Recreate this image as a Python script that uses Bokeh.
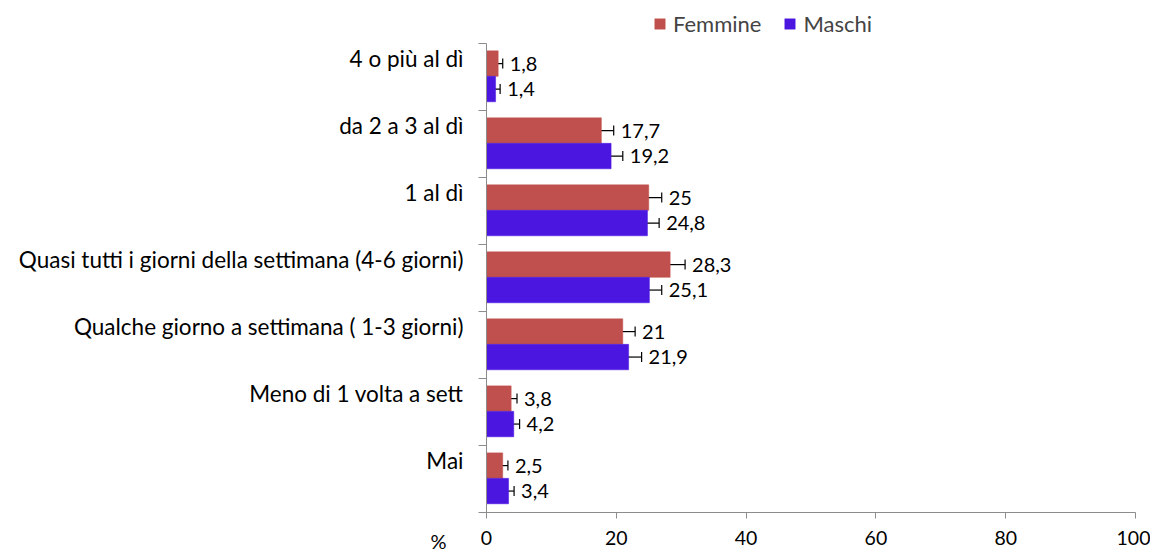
from bokeh.plotting import figure
from bokeh.models import (ColumnDataSource, Range1d, FixedTicker,
                          Whisker, TeeHead, Legend, LegendItem, Label, CustomJSTickFormatter)
from bokeh.transform import dodge
from bokeh.core.properties import value
from bokeh.embed import file_html
from bokeh.resources import INLINE

categories = ["4 o più al dì", "da 2 a 3 al dì", "1 al dì",
              "Quasi tutti i giorni della settimana (4-6 giorni)",
              "Qualche giorno a settimana ( 1-3 giorni)",
              "Meno di 1 volta a sett", "Mai"]
femmine = [1.8, 17.7, 25, 28.3, 21, 3.8, 2.5]
maschi = [1.4, 19.2, 24.8, 25.1, 21.9, 4.2, 3.4]
err_femmine = [0.7, 1.9, 2.0, 2.3, 1.9, 0.9, 0.8]
err_maschi = [0.7, 1.8, 1.8, 1.9, 2.0, 0.9, 0.85]
x_ticks = [0, 20, 40, 60, 80, 100]
series = ["Femmine", "Maschi"]
colors = ["#C0504D", "#4A16E0"]

FONT_NAME = "Lato"
FONT = value(FONT_NAME)
AXIS_COLOR = "#8C8C8C"

# canvas / plotting-area geometry (pixels)
W, H = 1150, 553
PX_LEFT, PX_RIGHT = 486, 1135    # x = 0 and x = 100
PX_TOP, PX_BOTTOM = 43, 512      # top and bottom of the category bands


def fmt(v):
    return f"{v:g}".replace(".", ",")


n = len(categories)
slot = [n - i - 0.5 for i in range(n)]   # first category at the top

src = ColumnDataSource(dict(
    cat=categories, slot=slot,
    f=femmine, m=maschi,
    f_lo=[v - e for v, e in zip(femmine, err_femmine)],
    f_hi=[v + e for v, e in zip(femmine, err_femmine)],
    m_lo=[v - e for v, e in zip(maschi, err_maschi)],
    m_hi=[v + e for v, e in zip(maschi, err_maschi)],
    f_lab=[fmt(v) for v in femmine],
    m_lab=[fmt(v) for v in maschi],
))

xs = (PX_RIGHT - PX_LEFT) / 100.0
ys = (PX_BOTTOM - PX_TOP) / n
p = figure(width=W, height=H,
           x_range=Range1d(-PX_LEFT / xs, 100 + (W - PX_RIGHT) / xs),
           y_range=Range1d(-(H - PX_BOTTOM) / ys, n + PX_TOP / ys),
           output_backend="svg", toolbar_location=None,
           min_border_left=0, min_border_right=0, min_border_top=0, min_border_bottom=0)
p.outline_line_color = None
p.xgrid.visible = False
p.ygrid.visible = False
p.background_fill_color = "white"
p.border_fill_color = "white"

yax = p.yaxis[0]
yax.fixed_location = 0
yax.bounds = (0, n)
yax.ticker = FixedTicker(ticks=[s + 0.27 for s in slot], minor_ticks=list(range(n + 1)))
yax.formatter = CustomJSTickFormatter(args=dict(labels=list(reversed(categories))),
                                      code="return labels[Math.floor(tick)] || '';")
yax.major_tick_out = 0
yax.major_tick_in = 0
yax.minor_tick_out = 8
yax.minor_tick_in = 0
yax.minor_tick_line_color = AXIS_COLOR
yax.axis_line_color = AXIS_COLOR
yax.major_label_standoff = 15
yax.major_label_text_font = FONT_NAME
yax.major_label_text_font_size = "22.5px"
yax.major_label_text_color = "black"

xa = p.xaxis[0]
xa.fixed_location = 0
xa.bounds = (0, 100)
xa.ticker = FixedTicker(ticks=x_ticks, minor_ticks=[])
xa.major_tick_out = 6
xa.major_tick_in = 0
xa.minor_tick_line_color = None
xa.major_tick_line_color = AXIS_COLOR
xa.axis_line_color = AXIS_COLOR
xa.major_label_standoff = 12
xa.major_label_text_font = FONT_NAME
xa.major_label_text_font_size = "19.5px"
xa.major_label_text_color = "black"

off = {"f": 0.2, "m": -0.18}
renderers = []
for key, col in zip(["f", "m"], colors):
    yb = dodge("slot", off[key])
    r = p.hbar(y=yb, left=0, right=key, height=0.38, fill_color=col,
               line_color=col, line_width=0.5, source=src)
    renderers.append(r)
    w = Whisker(source=src, base=dodge("slot", off[key]),
                lower=f"{key}_lo", upper=f"{key}_hi", dimension="width",
                line_color="black", line_width=1.2,
                upper_head=TeeHead(size=10, line_color="black", line_width=1.2),
                lower_head=TeeHead(size=10, line_color="black", line_width=1.2))
    p.add_layout(w)
    p.text(x=f"{key}_hi", y=dodge("slot", off[key]), text=f"{key}_lab",
           x_offset=7, text_baseline="middle", text_align="left",
           text_font=FONT, text_font_size="20px", text_color="black", source=src)

legend = Legend(items=[LegendItem(label=s, renderers=[r]) for s, r in zip(series, renderers)],
                orientation="horizontal")
legend.border_line_color = None
legend.background_fill_alpha = 0
legend.label_text_font = FONT_NAME
legend.label_text_font_size = "22px"
legend.glyph_width = 13
legend.glyph_height = 13
legend.label_standoff = 7
legend.spacing = 22
legend.padding = 0
legend.margin = 0
legend.location = (653, H - 37)
p.add_layout(legend, "center")

pct = Label(x=0, y=0, x_offset=-48, y_offset=-28, text="%",
            text_align="center", text_baseline="middle", text_font=FONT_NAME,
            text_font_size="20px", text_color="black")
p.add_layout(pct)

open("out.html", "w").write(file_html(p, INLINE))
